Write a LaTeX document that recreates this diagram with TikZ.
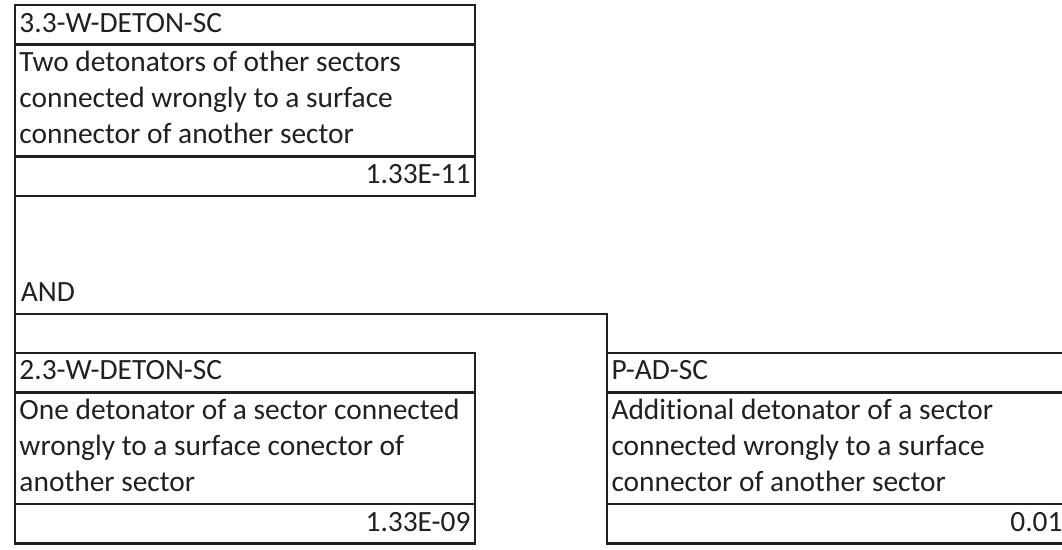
\documentclass[tikz,border=0pt]{standalone}
\usepackage{fontspec}
\setmainfont{Carlito}[Ligatures={NoCommon}]
\usetikzlibrary{shapes.multipart, positioning}
\definecolor{ink}{HTML}{231F20}
\newcommand{\evleft}[1]{\parbox[t]{451pt}{\raggedright\strut #1\strut}}
\newcommand{\evright}[1]{\parbox[t]{451pt}{\raggedleft\strut #1\strut}}

\begin{document}
\begin{tikzpicture}[x=1pt, y=-1pt, line width=2.6pt, ink,
    event/.style={rectangle split, rectangle split parts=3, draw=ink, text=ink,
      inner xsep=4.5pt, inner ysep=0.5pt, outer sep=0pt,
      font=\fontsize{29.4}{36}\selectfont},
    gatetext/.style={inner xsep=4.5pt, inner ysep=0pt, text=ink,
      font=\fontsize{29.4}{36}\selectfont}]
    \useasboundingbox (0,0) rectangle (1062,549);
    % upper event
    \node[event, anchor=north west] (w33) at (15,5) {\evleft{3.3-W-DETON-SC}
      \nodepart{two}\evleft{Two detonators of other sectors\\ connected wrongly to a surface\\ connector of another sector}
      \nodepart{three}\evright{1.33E-11}};
    % lower events
    \node[event, below=157pt of w33] (w23) {\evleft{2.3-W-DETON-SC}
      \nodepart{two}\evleft{One detonator of a sector connected\\ wrongly to a surface conector of\\ another sector}
      \nodepart{three}\evright{1.33E-09}};
    \node[event, right=132pt of w23] (pad) {\evleft{P-AD-SC}
      \nodepart{two}\evleft{Additional detonator of a sector\\ connected wrongly to a surface\\ connector of another sector}
      \nodepart{three}\evright{0.01}};
    % AND gate
    \coordinate[below=118pt of w33.south west] (gatejoin);
    \draw (w33.south west) -- (w23.north west);
    \draw (gatejoin) -| (pad.north west);
    \node[gatetext, anchor=south west] (gate) at (gatejoin) {\strut AND\strut};
\end{tikzpicture}
\end{document}
